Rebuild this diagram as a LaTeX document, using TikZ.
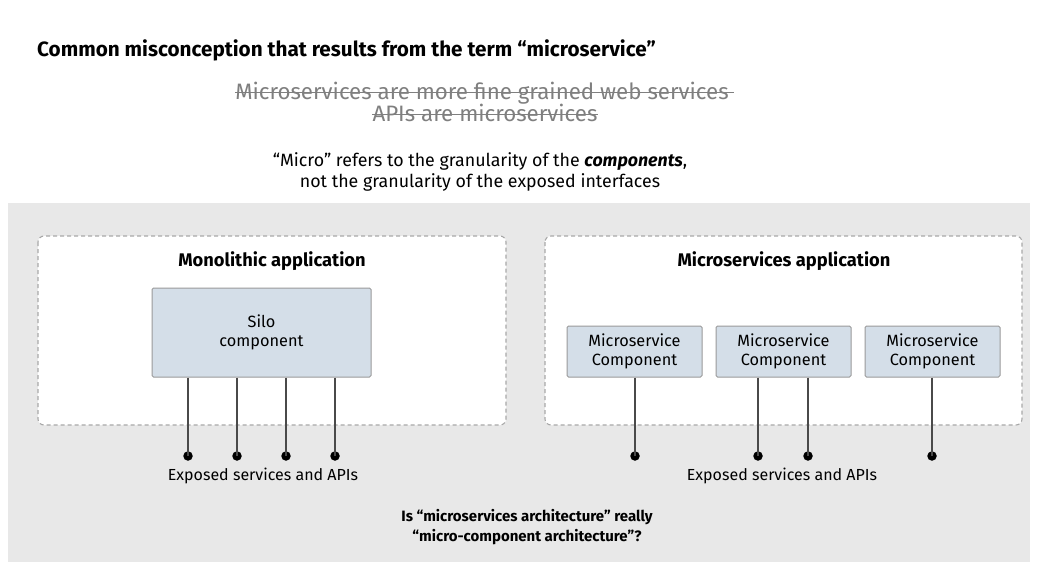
\documentclass[tikz,border=0pt]{standalone}
\usepackage{fontspec}
\setmainfont{Fira Sans}
\usetikzlibrary{calc}
\definecolor{panelgray}{HTML}{E8E8E8}
\definecolor{dashgray}{HTML}{A8A8A8}
\definecolor{compfill}{HTML}{D4DEE8}
\definecolor{compline}{HTML}{9A9A9A}
\definecolor{striketext}{HTML}{7F7F7F}
\definecolor{wireline}{HTML}{4A4A4A}
\tikzset{
  apparea/.style={draw=dashgray, dash pattern=on 4pt off 3pt, line width=1.1pt, fill=white, rounded corners=6pt},
  comp/.style={draw=compline, line width=1pt, fill=compfill, rounded corners=1.5pt, align=center, inner sep=0pt,
               font=\fontsize{16.3}{19}\selectfont},
  apptitle/.style={font=\fontsize{18.3}{22}\selectfont\bfseries},
  endpoint/.style={circle, fill=black, inner sep=0pt, minimum size=9.5pt},
  wire/.style={draw=wireline, line width=1.4pt},
  caption/.style={font=\fontsize{16}{19}\selectfont},
  struck/.style={text=striketext, font=\fontsize{22.3}{26}\selectfont},
  strike/.style={draw=striketext, line width=1.3pt}
}
\begin{document}
\begin{tikzpicture}[x=1pt,y=-1pt]
\useasboundingbox (0,0) rectangle (1037,563);
\fill[white] (0,0) rectangle (1037,563);

% heading
\node[anchor=base west, font=\fontsize{20.7}{25}\selectfont\bfseries, inner sep=0pt] (title) at (37,56)
  {Common misconception that results from the term “microservice”};

% struck-out claims
\node[struck, anchor=base, inner sep=0pt] (claimA) at (482,99) {Microservices are more fine grained web services};
\node[struck, anchor=base, inner sep=0pt] (claimB) at (485,121) {APIs are microservices};
\draw[strike] ($(claimA.base west)+(0,-6.5)$) -- ($(claimA.base east)+(5,-6.5)$);
\draw[strike] ($(claimB.base west)+(0,-6.5)$) -- ($(claimB.base east)+(0,-6.5)$);

% clarification
\node[align=center, font=\fontsize{17.8}{20.5}\selectfont, inner sep=0pt] (note) at (480,172)
  {“Micro” refers to the granularity of the \textbf{\textit{components}},\\
   not the granularity of the exposed interfaces};

% grey panel
\fill[panelgray] (8,203) rectangle (1030,562);

% monolithic side
\draw[apparea] (38,236) rectangle (506,425);
\node[apptitle] (monoT) at (272,261) {Monolithic application};
\node[comp, minimum width=219pt, minimum height=89pt] (silo) at (261.5,332.5) {Silo\\component};
\foreach \i/\x in {1/188,2/237,3/286,4/335}{
  \node[endpoint] (m\i) at (\x,456) {};
  \draw[wire] (silo.south -| m\i) -- (m\i.center);
}
\node[caption] (monoC) at (263,476) {Exposed services and APIs};

% microservices side
\draw[apparea] (545,236) rectangle (1022,425);
\node[apptitle] (microT) at (784,261) {Microservices application};
\node[comp, minimum width=135pt, minimum height=51pt] (c1) at (634.5,351.5) {Microservice\\Component};
\node[comp, minimum width=135pt, minimum height=51pt] (c2) at (783.5,351.5) {Microservice\\Component};
\node[comp, minimum width=135pt, minimum height=51pt] (c3) at (932.5,351.5) {Microservice\\Component};
\node[endpoint] (e1) at (635,456) {};
\node[endpoint] (e2) at (758,456) {};
\node[endpoint] (e3) at (808,456) {};
\node[endpoint] (e4) at (932,456) {};
\draw[wire] (c1.south -| e1) -- (e1.center);
\draw[wire] (c2.south -| e2) -- (e2.center);
\draw[wire] (c2.south -| e3) -- (e3.center);
\draw[wire] (c3.south -| e4) -- (e4.center);
\node[caption] (microC) at (782,476) {Exposed services and APIs};

% closing question
\node[align=center, font=\fontsize{15}{20}\selectfont\bfseries, inner sep=0pt] (question) at (527,527)
  {Is “microservices architecture” really\\“micro-component architecture”?};
\end{tikzpicture}
\end{document}
